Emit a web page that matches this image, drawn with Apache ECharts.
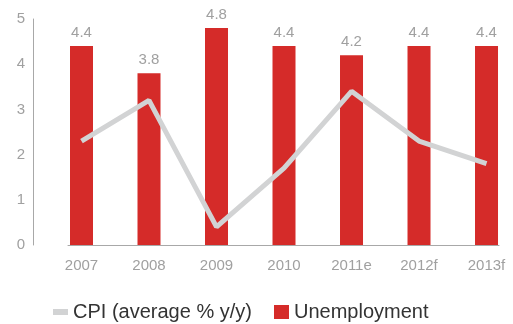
<!DOCTYPE html>
<html>
<head>
<meta charset="utf-8">
<script src="https://cdn.jsdelivr.net/npm/echarts@6/dist/echarts.min.js"></script>
<style>
    html, body { margin: 0; padding: 0; background: #fff; }
    #chart { width: 513px; height: 324px; }
</style>
</head>
<body>
<div id="chart"></div>
<script>
// 数据
const years = ['2007', '2008', '2009', '2010', '2011e', '2012f', '2013f']
const unemployment = [4.4, 3.8, 4.8, 4.4, 4.2, 4.4, 4.4]
const cpi = [2.3, 3.2, 0.4, 1.7, 3.4, 2.3, 1.8]
const yTicks = [0, 1, 2, 3, 4, 5]

const red = '#d52b29'
const grey = '#d2d3d4'
const labelColor = '#a0a0a0'
const font = 'Liberation Sans'

const chart = echarts.init(document.getElementById('chart'))

const option = {
    animation: false,
    grid: {
        left: 68,
        right: 14,
        top: 19,
        bottom: 79,
    },
    xAxis: {
        type: 'value',
        min: -0.2,
        max: 6.185,
        splitLine: { show: false },
        axisTick: { show: false },
        axisLine: {
            onZero: false,
            lineStyle: { color: '#a8a8a8', width: 1 },
        },
        axisLabel: {
            customValues: years.map((y, i) => i),
            formatter: v => years[Math.round(v)],
            color: labelColor,
            fontFamily: font,
            fontSize: 15,
            margin: 13,
        },
    },
    yAxis: {
        type: 'value',
        min: yTicks[0],
        max: yTicks[yTicks.length - 1],
        interval: 1,
        offset: 35,
        splitLine: { show: false },
        axisTick: { show: false },
        axisLine: {
            show: true,
            onZero: false,
            lineStyle: { color: '#a8a8a8', width: 1 },
        },
        axisLabel: {
            color: labelColor,
            fontFamily: font,
            fontSize: 15,
            margin: 8,
        },
    },
    legend: [
        {
            left: 53,
            top: 302,
            padding: 0,
            itemWidth: 15,
            itemHeight: 6,
            data: [{ name: 'CPI (average % y/y)', icon: 'rect', itemStyle: { color: grey } }],
            textStyle: { color: '#333', fontFamily: font, fontSize: 20 },
        },
        {
            left: 274,
            top: 302,
            padding: 0,
            itemWidth: 15,
            itemHeight: 14,
            data: [{ name: 'Unemployment', icon: 'rect' }],
            textStyle: { color: '#333', fontFamily: font, fontSize: 20 },
        },
    ],
    series: [
        {
            name: 'Unemployment',
            type: 'bar',
            barWidth: 23,
            data: unemployment.map((v, i) => [i, v]),
            itemStyle: { color: red },
            label: {
                show: true,
                position: 'top',
                distance: 6,
                color: labelColor,
                fontFamily: font,
                fontSize: 15,
                formatter: p => p.value[1].toFixed(1),
            },
        },
        {
            name: 'CPI (average % y/y)',
            type: 'line',
            data: cpi.map((v, i) => [i, v]),
            symbol: 'none',
            z: 3,
            lineStyle: { color: grey, width: 5 },
            itemStyle: { color: grey },
        },
    ],
}
option && chart.setOption(option)
</script>
</body>
</html>
